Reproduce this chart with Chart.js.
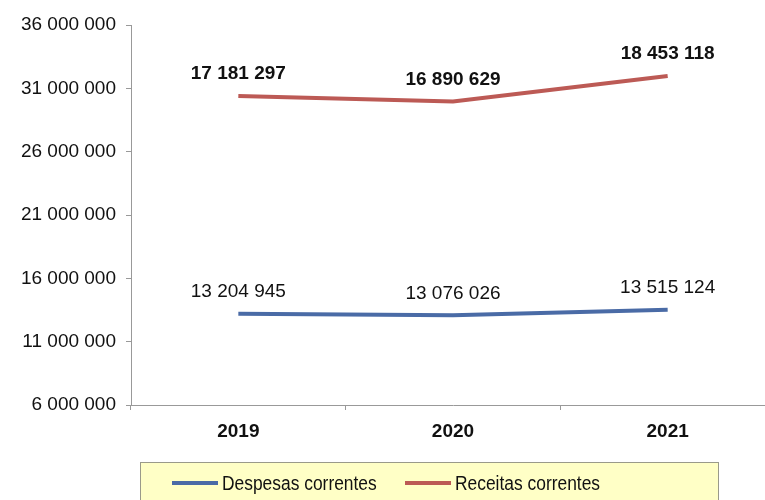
<!DOCTYPE html>
<html>
<head>
<meta charset="utf-8">
<script src="https://cdn.jsdelivr.net/npm/chart.js@4/dist/chart.umd.min.js"></script>
<style>
  html, body { margin: 0; padding: 0; background: #fff; overflow: hidden; }
  #wrap { width: 775px; height: 500px; }
</style>
</head>
<body>
<div id="wrap"><canvas id="chart"></canvas></div>
<script>
var anos = ['2019', '2020', '2021'];
var despesasCorrentes = [13204945, 13076026, 13515124];
var receitasCorrentes = [17181297, 16890629, 18453118];
var nomesSeries = ['Despesas correntes', 'Receitas correntes'];

var corAzul = '#4A6BA6';
var corVermelha = '#BC5A55';
var fonte = '"Liberation Sans", Arial, sans-serif';

function formatar(n) {
    return String(n).replace(/\B(?=(\d{3})+(?!\d))/g, ' ');
}

// rótulos por cima de cada ponto
var rotulos = {
    id: 'rotulos',
    afterDatasetsDraw: function (chart) {
        var ctx = chart.ctx;
        ctx.save();
        ctx.fillStyle = '#111';
        ctx.textAlign = 'center';
        ctx.textBaseline = 'middle';
        chart.data.datasets.forEach(function (ds, i) {
            var meta = chart.getDatasetMeta(i);
            ctx.font = (i === 1 ? 'bold ' : '') + '19px ' + fonte;
            meta.data.forEach(function (pt, j) {
                ctx.fillText(formatar(ds.data[j]), pt.x, pt.y - 22);
            });
        });
        ctx.restore();
    }
};

// legenda com caixa amarela (texto um pouco estreitado)
var legenda = {
    id: 'legenda',
    afterDraw: function (chart) {
        var ctx = chart.ctx;
        ctx.save();
        ctx.fillStyle = '#FFFFC6';
        ctx.strokeStyle = '#9A9A8A';
        ctx.lineWidth = 1;
        ctx.fillRect(140.5, 462.5, 578, 50);
        ctx.strokeRect(140.5, 462.5, 578, 50);
        var itens = [{x: 172, cor: corAzul}, {x: 405, cor: corVermelha}];
        ctx.font = '20px ' + fonte;
        ctx.fillStyle = '#111';
        ctx.textBaseline = 'middle';
        itens.forEach(function (it, i) {
            ctx.strokeStyle = it.cor;
            ctx.lineWidth = 4;
            ctx.beginPath();
            ctx.moveTo(it.x, 483);
            ctx.lineTo(it.x + 46, 483);
            ctx.stroke();
            ctx.save();
            ctx.translate(it.x + 50, 484);
            ctx.scale(0.87, 1);
            ctx.fillText(nomesSeries[i], 0, 0);
            ctx.restore();
        });
        ctx.restore();
    }
};

var ctx = document.getElementById('chart').getContext('2d');
new Chart(ctx, {
    type: 'line',
    data: {
        labels: anos,
        datasets: [{
            label: nomesSeries[0],
            data: despesasCorrentes,
            borderColor: corAzul,
            backgroundColor: corAzul,
            borderWidth: 4,
            pointRadius: 0,
            tension: 0
        }, {
            label: nomesSeries[1],
            data: receitasCorrentes,
            borderColor: corVermelha,
            backgroundColor: corVermelha,
            borderWidth: 4,
            pointRadius: 0,
            tension: 0
        }]
    },
    options: {
        responsive: true,
        maintainAspectRatio: false,
        animation: false,
        layout: { padding: { top: 25, right: 0, left: 0, bottom: 0 } },
        plugins: {
            legend: { display: false },
            tooltip: { enabled: false }
        },
        scales: {
            x: {
                offset: true,
                afterFit: function (s) { s.height = 95; },
                grid: {
                    offset: true,
                    drawOnChartArea: false,
                    tickLength: 5,
                    color: '#999'
                },
                border: { color: '#999', width: 1 },
                ticks: {
                    padding: 10,
                    color: '#111',
                    font: { family: fonte, size: 19, weight: 'bold' }
                }
            },
            y: {
                stacked: true,
                min: 6000000,
                max: 36000000,
                afterFit: function (s) { s.width = 131; },
                grid: {
                    drawOnChartArea: false,
                    tickLength: 5,
                    color: '#999'
                },
                border: { color: '#999', width: 1 },
                ticks: {
                    stepSize: 5000000,
                    padding: 10,
                    color: '#111',
                    font: { family: fonte, size: 19 },
                    callback: function (v) { return formatar(v); }
                }
            }
        }
    },
    plugins: [rotulos, legenda]
});
</script>
</body>
</html>
